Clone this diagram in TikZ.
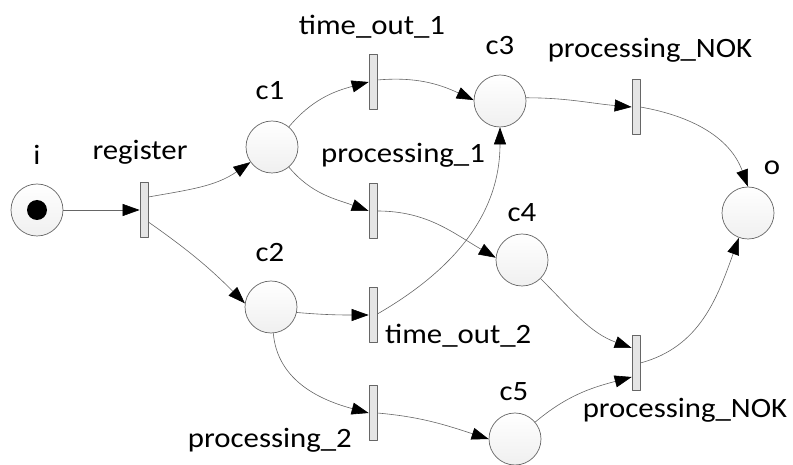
\documentclass[tikz,border=0pt]{standalone}
\usepackage{fontspec}
\setmainfont{Carlito}[FakeStretch=1.1]
\usetikzlibrary{arrows.meta}
\begin{document}
\begin{tikzpicture}[x=1pt,y=1pt,>={Triangle[length=17pt,width=12pt,color=black]},line cap=round,line join=round,font=\fontsize{28}{32}\selectfont,
	place/.style={circle,draw=black!60,line width=.7pt,minimum size=52pt,inner sep=0pt,top color=white,bottom color=black!6},
	trans/.style={rectangle,draw=black!60,line width=.7pt,fill=black!10,minimum width=8pt,minimum height=55pt,inner sep=0pt},
	arc/.style={->,draw=black!60,line width=.6pt}]
	\useasboundingbox (0,0) rectangle (793,464);
	\node[place] (i) at (37,254) {};
	\node[circle,fill=black,minimum size=20pt,inner sep=0pt] (token) at (i) {};
	\node[place] (c1) at (272,317) {};
	\node[place] (c2) at (271,157) {};
	\node[place] (c3) at (500,363) {};
	\node[place] (c4) at (522,204) {};
	\node[place] (c5) at (515,25) {};
	\node[place] (o) at (748,251) {};
	\node[trans] (tReg) at (144,254) {};
	\node[trans] (tTo1) at (373,382) {};
	\node[trans] (tP1) at (373,253) {};
	\node[trans] (tTo2) at (373,149) {};
	\node[trans] (tP2) at (373,51) {};
	\node[trans] (tNok1) at (636,357) {};
	\node[trans] (tNok2) at (636,101) {};
	\node[anchor=base] (lI) at (37,299) {i};
	\node[anchor=base] (lReg) at (140,304) {register};
	\node[anchor=base] (lC1) at (270,364) {c1};
	\node[anchor=base] (lTo1) at (372,429) {time\_out\_1};
	\node[anchor=base] (lC3) at (500,409) {c3};
	\node[anchor=base] (lP1) at (403,301) {processing\_1};
	\node[anchor=base] (lC4) at (522,242) {c4};
	\node[anchor=base] (lC2) at (270,202) {c2};
	\node[anchor=base west,inner xsep=0pt] (lTo2) at (385,121) {time\_out\_2};
	\node[anchor=base east,inner xsep=0pt] (lP2) at (352,17) {processing\_2};
	\node[anchor=base] (lC5) at (514,64) {c5};
	\node[anchor=base] (lNok1) at (650,406) {processing\_NOK};
	\node[anchor=base] (lNok2) at (685,47) {processing\_NOK};
	\node[anchor=base] (lO) at (772,289) {o};
	\draw[arc] (i) -- (tReg);
	\draw[arc] ([yshift=13pt]tReg.east) to[out=10,in=215] (c1);
	\draw[arc] ([yshift=-12pt]tReg.east) to[out=-35,in=135] (c2.172);
	\draw[arc] (c1) to[out=50,in=195] (tTo1.west);
	\draw[arc] ([yshift=2pt]tTo1.east) to[out=5,in=155] (c3.178);
	\draw[arc] (c1) to[out=-50,in=160] (tP1.west);
	\draw[arc] (tP1.east) to[out=0,in=150] (c4.175);
	\draw[arc] (c2.-12) to[out=-5,in=180] (tTo2.west);
	\draw[arc] ([yshift=1pt]tTo2.east) to[out=30,in=-90] (c3);
	\draw[arc] (c2) to[out=-85,in=165] (tP2.west);
	\draw[arc] (tP2.east) to[out=-5,in=162] (c5.west);
	\draw[arc] (c3.7) to[out=0,in=175] (tNok1.west);
	\draw[arc] (tNok1.east) to[out=-10,in=110] (o.north);
	\draw[arc] (c4) to[out=-45,in=160] ([yshift=15pt]tNok2.west);
	\draw[arc] (c5) to[out=40,in=195] ([yshift=-14pt]tNok2.west);
	\draw[arc] (tNok2.east) to[out=15,in=-110] (o);
\end{tikzpicture}
\end{document}
